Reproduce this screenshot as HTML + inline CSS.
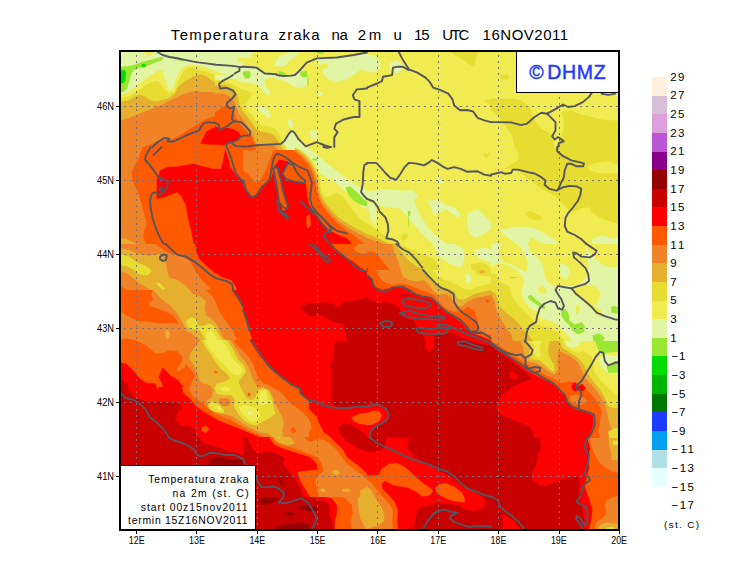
<!DOCTYPE html>
<html><head><meta charset="utf-8"><title>Temperatura zraka na 2m</title>
<style>
html,body{margin:0;padding:0;background:#fff;}
body{width:740px;height:582px;overflow:hidden;position:relative;font-family:"Liberation Sans",sans-serif;}
svg{position:absolute;left:0;top:0;display:block;}
text{font-family:"Liberation Sans",sans-serif;fill:#000;}
.ttl{font-size:15px;}
.ax{font-size:10px;}
.cb{font-size:11.5px;}
.lg{font-size:10.4px;}
.logo{font-size:19.5px;fill:#2038ff;stroke:#2038ff;stroke-width:0.45px;}
</style></head><body>
<svg width="740" height="582" viewBox="0 0 740 582">
<defs>
<clipPath id="plot"><rect x="120" y="51" width="499" height="479"/></clipPath>
<clipPath id="c00"><rect x="119" y="50" width="124.5" height="97.5"/></clipPath>
<clipPath id="c10"><rect x="243" y="50" width="124.5" height="97.5"/></clipPath>
<clipPath id="c20"><rect x="367" y="50" width="124.5" height="97.5"/></clipPath>
<clipPath id="c30"><rect x="491" y="50" width="130.5" height="97.5"/></clipPath>
<clipPath id="c01"><rect x="119" y="147" width="124.5" height="97.5"/></clipPath>
<clipPath id="c11"><rect x="243" y="147" width="124.5" height="97.5"/></clipPath>
<clipPath id="c21"><rect x="367" y="147" width="124.5" height="97.5"/></clipPath>
<clipPath id="c31"><rect x="491" y="147" width="130.5" height="97.5"/></clipPath>
<clipPath id="c02"><rect x="119" y="244" width="124.5" height="97.5"/></clipPath>
<clipPath id="c12"><rect x="243" y="244" width="124.5" height="97.5"/></clipPath>
<clipPath id="c22"><rect x="367" y="244" width="124.5" height="97.5"/></clipPath>
<clipPath id="c32"><rect x="491" y="244" width="130.5" height="97.5"/></clipPath>
<clipPath id="c03"><rect x="119" y="341" width="124.5" height="97.5"/></clipPath>
<clipPath id="c13"><rect x="243" y="341" width="124.5" height="97.5"/></clipPath>
<clipPath id="c23"><rect x="367" y="341" width="124.5" height="97.5"/></clipPath>
<clipPath id="c33"><rect x="491" y="341" width="130.5" height="97.5"/></clipPath>
<clipPath id="c04"><rect x="119" y="438" width="124.5" height="97.5"/></clipPath>
<clipPath id="c14"><rect x="243" y="438" width="124.5" height="97.5"/></clipPath>
<clipPath id="c24"><rect x="367" y="438" width="124.5" height="97.5"/></clipPath>
<clipPath id="c34"><rect x="491" y="438" width="130.5" height="97.5"/></clipPath>
<clipPath id="p0"><rect x="215" y="75" width="80" height="75"/></clipPath>
<clipPath id="p1"><rect x="119" y="290" width="124" height="97"/></clipPath>
<clipPath id="p2"><rect x="367" y="270" width="124" height="97"/></clipPath>
<clipPath id="p3"><rect x="243" y="400" width="124" height="97"/></clipPath>
<clipPath id="p4"><rect x="185" y="340" width="124" height="97"/></clipPath>
</defs>
<rect width="740" height="582" fill="#fff"/>
<g clip-path="url(#plot)">
<rect x="120" y="51" width="499" height="479" fill="#F0EB50"/>
<g clip-path="url(#c00)">
<rect x="119" y="50" width="125" height="98" fill="#E1F5A5"/>
<polygon fill="#9BE632" points="119.0,66.8 129.1,65.9 135.8,64.2 142.5,61.7 152.5,59.2 160.9,57.0 163.9,57.5 161.7,60.4 154.2,63.1 145.8,66.8 139.1,68.1 134.1,70.1 131.1,74.3 129.4,81.0 127.4,87.7 124.0,91.9 119.0,91.9"/>
<polygon fill="#00DC00" points="119.0,70.9 124.9,69.8 126.0,73.5 125.4,80.2 123.2,83.5 119.0,82.7"/>
<polygon fill="#00DC00" points="141.6,64.2 145.8,64.2 145.8,66.8 141.6,66.8"/>
<polygon fill="#F0EB50" points="143.3,51.7 153.4,51.7 150.8,55.9 145.8,55.0"/>
<polygon fill="#9BE632" points="175.1,58.0 183.5,59.7 183.5,61.4 175.1,59.4"/>
<polygon fill="#F0EB50" points="237.1,58.4 243.0,57.5 243.0,62.6 238.8,61.7"/>
<polygon fill="#F0EB50" points="119.0,94.4 127.4,92.7 131.6,89.4 135.8,86.0 144.1,80.2 150.8,75.1 157.5,70.9 162.2,70.1 163.9,76.8 165.9,83.5 168.9,89.9 172.3,89.4 174.8,82.7 177.6,75.1 181.0,68.8 186.0,65.4 192.7,64.4 199.4,65.9 206.1,67.8 212.8,70.1 219.5,72.6 226.2,75.1 232.9,77.6 239.6,78.8 243.0,78.8 243.0,147.0 119.0,147.0"/>
<polygon fill="#E6DC32" points="119.0,98.3 129.1,96.6 135.8,92.2 140.8,88.2 147.5,83.8 154.2,81.2 158.4,81.2 161.7,86.0 165.1,90.6 169.3,93.1 174.3,92.2 176.8,86.0 179.3,78.8 183.5,71.4 187.7,67.8 192.7,67.6 197.8,69.4 202.8,71.1 209.5,73.1 216.2,76.1 222.9,79.3 229.6,81.8 236.3,83.2 243.0,84.4 243.0,147.0 119.0,147.0"/>
<polygon fill="#E6AF2D" points="119.0,102.3 129.1,100.3 135.8,96.2 140.8,94.6 145.8,96.9 150.0,100.3 155.0,101.3 160.9,100.3 167.6,98.6 174.3,94.6 177.6,87.9 182.7,82.8 189.4,78.5 196.1,75.1 201.1,74.5 206.1,76.1 211.2,80.2 216.2,83.5 221.2,87.7 227.9,90.2 234.6,91.9 243.0,93.9 243.0,147.0 119.0,147.0"/>
<polygon fill="#F08228" points="119.0,121.2 129.1,117.9 137.4,114.5 145.8,111.2 154.2,107.8 162.6,104.5 169.3,101.1 176.0,97.8 182.7,94.4 189.4,91.9 196.1,91.1 202.8,91.9 209.5,91.9 216.2,92.7 222.9,93.9 227.9,97.8 234.6,101.1 243.0,105.3 243.0,147.0 119.0,147.0"/>
<polygon fill="#FF5A00" points="144.1,147.0 151.7,143.8 158.0,140.8 169.3,140.2 175.6,137.6 181.8,134.0 189.4,128.9 196.9,124.6 204.5,120.0 212.0,117.0 216.2,116.2 222.9,112.0 227.9,108.3 231.6,107.3 234.6,108.6 235.5,114.5 239.6,120.4 243.0,123.7 243.0,147.0"/>
<polygon fill="#FF0000" points="200.3,143.8 203.6,137.1 206.5,131.4 212.8,127.9 219.5,126.4 226.2,128.8 232.9,127.9 239.6,130.4 242.3,135.5 240.0,140.5 233.8,142.2 226.2,143.8 212.8,144.7"/>
</g>
<g clip-path="url(#c10)">
<rect x="243" y="50" width="125" height="98" fill="#F0EB50"/>
<polygon fill="#E1F5A5" points="243.0,66.8 256.4,68.1 264.8,73.8 276.5,74.8 287.4,76.5 300.0,70.4 307.5,76.8 307.5,86.0 300.0,87.7 291.6,87.7 281.5,83.5 269.8,78.5 263.1,80.2 266.5,88.5 270.6,94.4 266.5,95.2 259.8,88.5 253.1,83.5 243.0,86.0"/>
<polygon fill="#E1F5A5" points="316.7,58.4 336.8,58.0 353.6,55.4 367.0,53.0 367.0,70.9 360.3,70.1 353.6,75.1 346.9,79.3 336.8,81.8 330.1,80.2 325.1,76.8 321.8,70.1 328.5,66.8 326.8,63.4 318.4,65.1"/>
<polygon fill="#E1F5A5" points="273.2,65.9 276.5,60.1 279.0,55.9 289.1,52.5 298.3,52.0 294.9,57.5 289.9,60.1 286.6,65.1 281.5,66.8"/>
<polygon fill="#E1F5A5" points="243.0,52.0 253.1,52.0 251.4,56.7 243.0,58.4"/>
<polygon fill="#E1F5A5" points="316.7,90.2 321.8,91.9 322.6,95.2 317.6,95.6"/>
<polygon fill="#E1F5A5" points="256.4,106.1 264.8,107.0 270.6,112.8 269.8,117.0 263.1,113.7 258.1,110.3"/>
<polygon fill="#E1F5A5" points="287.4,119.0 292.4,120.0 292.9,125.4 288.2,127.9"/>
<polygon fill="#E1F5A5" points="310.0,130.4 316.7,130.1 317.6,140.5 310.9,139.6"/>
<polygon fill="#E1F5A5" points="285.7,147.0 289.1,138.8 291.9,132.9 297.5,139.6 304.2,147.0"/>
<polygon fill="#9BE632" points="243.0,71.4 249.7,70.9 251.0,75.1 249.7,78.5 243.0,78.5"/>
<polygon fill="#9BE632" points="277.4,71.4 283.2,71.8 286.9,75.1 286.2,76.8 280.7,75.1"/>
<polygon fill="#9BE632" points="300.0,71.8 306.7,70.9 307.5,76.8 303.3,77.6 300.3,75.1"/>
<polygon fill="#9BE632" points="307.3,77.6 308.4,77.6 308.4,86.0 307.3,86.0"/>
<polygon fill="#9BE632" points="316.7,52.0 323.8,52.0 323.1,54.0 317.6,53.7"/>
<polygon fill="#E6DC32" points="243.0,90.2 248.0,91.1 252.2,95.2 250.5,100.3 246.4,105.3 243.0,107.0"/>
<polygon fill="#E6DC32" points="243.0,108.6 248.0,113.7 253.1,120.4 259.8,125.4 268.1,126.2 274.8,128.8 279.0,133.8 283.2,138.8 279.9,143.8 273.2,147.0 243.0,147.0"/>
<polygon fill="#E6AF2D" points="243.0,114.5 247.2,118.7 251.4,125.4 256.4,130.4 263.1,132.9 269.8,134.6 275.7,138.0 279.0,142.2 273.2,147.0 243.0,147.0"/>
<polygon fill="#F08228" points="243.0,120.4 246.4,123.7 250.5,130.4 254.7,135.5 259.8,140.5 263.1,147.0 243.0,147.0"/>
<polygon fill="#FF5A00" points="243.0,128.8 248.0,130.4 251.4,137.1 255.6,143.8 257.2,147.0 243.0,147.0"/>
</g>
<g clip-path="url(#c20)">
<rect x="367" y="50" width="125" height="98" fill="#F0EB50"/>
<polygon fill="#E1F5A5" points="367.0,54.2 377.1,56.7 380.7,61.7 379.6,70.1 373.7,72.6 367.0,71.8"/>
<polygon fill="#E1F5A5" points="388.8,64.2 395.5,60.1 403.0,64.2 402.2,70.1 397.2,73.5 392.1,71.8"/>
<polygon fill="#E6DC32" points="450.8,52.0 478.4,52.0 475.9,57.5 474.2,66.8 469.2,64.2 460.8,58.4 454.1,55.0"/>
<polygon fill="#E6DC32" points="483.5,100.3 491.0,99.4 491.0,106.1 487.6,103.6"/>
<polygon fill="#E6DC32" points="435.7,122.9 439.1,122.1 441.6,124.1 438.2,125.7"/>
</g>
<g clip-path="url(#c30)">
<rect x="491" y="50" width="131" height="98" fill="#F0EB50"/>
<polygon fill="#E6DC32" points="500.2,75.1 506.9,74.3 509.8,76.8 506.9,79.8 501.1,78.5"/>
<polygon fill="#E6DC32" points="491.0,98.6 501.1,98.9 512.8,98.6 521.2,100.3 529.5,107.0 532.1,113.7 534.9,120.4 541.3,128.8 548.0,132.1 552.2,135.5 554.7,147.0 514.5,147.0 512.8,137.1 507.8,128.8 501.1,120.4 496.0,113.7 491.0,110.3"/>
<polygon fill="#E6DC32" points="561.4,112.0 571.4,110.3 581.5,114.5 591.5,117.0 601.6,119.5 621.7,121.2 621.7,147.0 558.0,147.0 563.1,130.4 563.9,122.1"/>
</g>
<g clip-path="url(#c01)">
<rect x="119" y="147" width="125" height="98" fill="#FF5A00"/>
<polygon fill="#F08228" points="119.0,147.0 142.5,147.0 139.1,157.1 134.9,165.4 131.6,172.1 132.4,180.5 135.8,187.2 139.1,195.6 141.6,204.0 144.1,214.0 146.6,224.1 144.1,230.8 143.3,237.5 145.8,244.0 119.0,244.0"/>
<polygon fill="#E6AF2D" points="119.0,237.5 125.7,238.8 132.4,241.7 137.4,244.0 119.0,244.0"/>
<polygon fill="#FF0000" points="156.7,198.9 156.7,180.5 160.1,170.5 167.6,167.1 176.0,166.8 186.0,165.1 194.4,163.8 202.8,166.3 212.8,168.8 221.2,168.8 223.7,157.1 225.4,148.7 227.9,157.1 230.4,167.1 236.3,175.5 243.0,180.5 243.0,244.0 193.6,244.0 191.1,230.8 187.7,217.4 186.0,205.6 181.8,197.3 177.6,192.2 170.9,194.8 164.2,197.3"/>
</g>
<g clip-path="url(#c11)">
<rect x="243" y="147" width="125" height="98" fill="#FF0000"/>
<polygon fill="#FF5A00" points="243.0,147.0 283.2,147.0 283.2,157.1 287.4,161.2 279.0,159.6 274.8,165.4 271.5,177.2 266.5,183.0 261.4,187.2 256.4,195.6 251.4,197.3 246.4,190.6 243.0,185.5"/>
<polygon fill="#FF5A00" points="281.5,147.0 293.3,147.0 300.0,153.7 306.7,162.1 311.7,170.5 314.2,180.5 315.9,192.2 320.1,202.3 326.8,211.5 335.2,220.7 345.2,229.1 355.3,235.8 367.0,242.5 367.0,244.0 351.9,244.0 346.9,238.3 338.5,235.0 330.1,230.8 321.8,222.4 315.1,214.0 309.2,204.8 307.0,195.6 306.3,187.2 305.3,182.2 298.3,173.8 291.6,165.4 286.6,160.4 281.5,157.1"/>
<polygon fill="#FF5A00" points="282.4,173.8 288.2,162.1 293.3,165.4 298.3,173.8 305.3,182.2 300.0,183.0 293.3,181.4 285.7,178.8"/>
<polygon fill="#FF5A00" points="273.2,168.8 276.5,166.3 279.0,173.8 280.7,180.5 283.2,190.6 286.6,202.3 287.9,209.0 283.2,210.7 279.0,202.3 277.4,190.6 274.8,178.8"/>
<polygon fill="#FF5A00" points="306.7,215.7 310.0,214.0 310.9,225.8 307.5,229.1 306.3,222.4"/>
<polygon fill="#F08228" points="243.0,148.7 249.7,151.2 256.4,148.7 259.8,147.0 274.0,147.0 271.5,155.4 268.1,163.8 264.8,172.1 261.4,178.8 257.2,183.0 253.1,180.5 248.0,173.8 243.0,170.5"/>
<polygon fill="#E6AF2D" points="258.9,147.0 273.2,147.0 270.6,150.4 263.1,150.7"/>
<polygon fill="#F08228" points="283.2,147.0 293.3,150.4 300.8,156.2 307.5,163.8 312.0,172.1 314.7,182.2 316.4,193.1 320.4,203.1 327.1,212.4 335.5,221.6 345.6,229.9 355.6,236.6 364.5,244.0 367.0,244.0 367.0,147.0"/>
<polygon fill="#E6AF2D" points="286.9,147.0 296.6,150.7 303.3,156.2 309.7,163.8 314.2,172.1 316.7,182.2 318.4,193.1 322.6,203.1 329.3,211.5 337.7,220.4 347.7,227.4 357.8,233.3 367.0,238.0 367.0,147.0"/>
<polygon fill="#E6DC32" points="290.8,147.0 299.1,150.4 305.8,156.2 311.7,163.8 315.9,172.1 318.4,182.2 320.1,193.1 324.8,202.3 331.5,210.3 339.9,218.7 349.9,224.9 360.3,230.8 367.0,234.3 367.0,147.0"/>
<polygon fill="#F0EB50" points="294.1,147.0 301.6,150.4 308.0,156.2 313.7,163.8 317.6,172.1 319.7,180.5 320.9,188.9 323.1,194.8 326.8,197.3 331.8,194.8 336.8,193.1 343.5,197.3 348.6,204.0 353.6,211.5 360.3,219.1 367.0,223.7 367.0,147.0"/>
<polygon fill="#E1F5A5" points="294.9,147.0 306.7,147.0 313.4,152.0 321.8,158.7 330.1,165.4 338.5,172.1 346.9,178.8 356.9,185.5 367.0,190.6 367.0,209.0 360.3,205.6 353.6,198.9 346.9,192.2 340.2,187.2 333.5,180.5 326.8,177.2 320.1,173.8 316.7,167.1 313.4,162.1 308.4,156.2 301.6,150.4"/>
<polygon fill="#9BE632" points="345.2,187.2 350.2,186.4 356.9,192.2 363.6,198.9 367.0,201.5 367.0,206.5 360.3,204.8 353.6,200.6 348.6,194.8"/>
<polygon fill="#9BE632" points="312.5,158.4 317.1,158.4 317.1,160.4 312.5,160.4"/>
</g>
<g clip-path="url(#c21)">
<rect x="367" y="147" width="125" height="98" fill="#F0EB50"/>
<polygon fill="#E1F5A5" points="367.0,191.4 383.8,188.9 400.5,190.6 412.2,190.2 418.1,195.6 413.9,200.6 417.3,209.0 422.3,219.1 429.0,229.1 437.4,237.5 447.4,244.0 434.0,244.0 425.6,237.5 417.3,229.1 410.6,220.7 405.5,214.0 400.5,209.0 392.1,207.3 382.1,206.5 377.1,204.0 373.7,200.6 367.0,198.9"/>
<polygon fill="#E1F5A5" points="367.0,202.3 374.5,204.0 377.1,214.0 375.4,225.8 371.2,220.7 368.7,210.7"/>
<polygon fill="#E1F5A5" points="427.3,200.6 437.4,200.3 447.4,205.6 454.1,207.3 460.0,212.4 459.2,218.2 452.5,214.0 445.8,209.8 439.1,212.4 434.0,215.7 431.5,209.0"/>
<polygon fill="#E1F5A5" points="467.5,214.0 477.6,209.0 484.3,215.7 491.0,222.4 491.0,229.1 484.3,234.1 475.9,237.5 469.2,234.1 467.2,224.1"/>
<polygon fill="#E1F5A5" points="437.4,177.2 444.1,181.4 443.2,184.7 438.2,182.2"/>
<polygon fill="#E6DC32" points="482.6,153.4 490.2,153.4 486.3,159.1"/>
<polygon fill="#9BE632" points="407.7,210.7 410.9,211.5 409.7,216.5 408.1,215.7"/>
<polygon fill="#9BE632" points="408.1,216.5 408.9,216.5 408.9,226.6 408.1,226.6"/>
<polygon fill="#E6DC32" points="400.5,237.5 404.7,232.5 408.9,235.8 403.0,242.5"/>
<polygon fill="#E6DC32" points="367.0,223.7 373.7,227.8 380.4,232.5 387.1,237.2 393.8,240.8 397.2,244.0 367.0,244.0"/>
<polygon fill="#E6AF2D" points="367.0,234.3 373.7,236.3 380.4,239.5 387.1,242.8 389.1,244.0 367.0,244.0"/>
<polygon fill="#F08228" points="367.0,238.0 373.7,240.2 380.4,242.8 383.8,244.0 367.0,244.0"/>
</g>
<g clip-path="url(#c31)">
<rect x="491" y="147" width="131" height="98" fill="#F0EB50"/>
<polygon fill="#E6DC32" points="514.5,147.0 518.6,153.7 517.8,160.4 509.4,165.4 504.4,168.8 514.5,169.6 524.5,175.5 534.6,183.9 544.6,190.6 554.7,195.6 561.4,202.3 568.1,209.0 574.8,211.5 581.5,208.2 589.9,207.3 591.5,212.4 599.9,217.4 608.3,220.7 615.0,223.2 621.7,223.2 621.7,147.0"/>
<polygon fill="#F0EB50" points="587.4,167.1 594.9,162.9 608.3,161.2 615.0,163.8 621.7,163.8 621.7,172.1 608.3,173.8 598.2,173.0 591.5,171.3"/>
<polygon fill="#E6DC32" points="525.4,213.2 530.4,211.0 536.2,214.0 542.1,217.4 540.4,220.7 532.9,219.4 527.9,217.4"/>
<polygon fill="#E1F5A5" points="499.4,230.8 511.1,227.4 524.5,226.6 534.6,228.3 542.9,232.5 551.3,237.5 558.0,242.5 558.0,244.0 544.6,244.0 537.9,240.8 531.2,237.5 527.9,244.0 516.1,244.0 507.8,237.5"/>
<polygon fill="#E1F5A5" points="593.2,238.3 601.6,235.8 615.0,238.3 621.7,238.3 621.7,244.0 591.5,244.0"/>
</g>
<g clip-path="url(#c02)">
<rect x="119" y="244" width="125" height="98" fill="#F08228"/>
<polygon fill="#FF5A00" points="155.0,244.0 162.6,249.0 170.9,254.1 181.0,255.7 189.4,260.8 194.4,269.1 199.4,277.5 206.1,284.2 212.8,290.9 216.2,299.3 222.9,307.7 229.6,314.4 234.6,322.8 236.3,331.1 236.3,341.0 243.0,341.0 243.0,244.0"/>
<polygon fill="#FF0000" points="195.2,244.0 196.1,250.7 199.4,259.1 206.1,265.8 214.5,272.5 222.9,277.5 231.3,280.0 236.3,287.6 239.6,297.6 243.0,306.0 243.0,244.0"/>
<polygon fill="#FF5A00" points="119.0,285.9 124.0,287.9 129.1,292.6 132.4,301.0 137.4,307.3 144.1,308.5 148.3,301.8 152.5,301.0 152.2,306.8 157.5,310.2 165.9,313.5 172.6,317.7 177.6,324.4 180.2,331.1 181.0,341.0 119.0,341.0"/>
<polygon fill="#F08228" points="119.0,311.9 125.7,316.1 134.1,322.8 144.1,324.4 155.9,322.8 167.6,322.8 176.0,326.1 174.3,327.8 165.9,326.1 155.9,326.1 144.1,327.8 134.1,326.9 125.7,322.8 119.0,317.7"/>
<polygon fill="#F08228" points="127.4,341.0 130.7,337.8 137.4,337.0 140.8,341.0"/>
<polygon fill="#F08228" points="165.1,329.5 168.4,328.6 169.3,336.2 165.9,337.8"/>
<polygon fill="#E6AF2D" points="119.0,247.4 129.1,249.9 139.1,254.1 149.2,255.7 159.2,254.1 165.1,259.1 166.8,269.1 169.3,277.5 177.6,280.0 186.0,285.9 192.7,294.3 199.4,295.9 206.1,301.0 207.0,307.7 204.5,314.4 209.5,319.4 216.2,324.4 221.2,331.1 226.2,341.0 181.0,341.0 180.2,331.1 177.6,317.7 172.6,307.7 165.9,299.3 157.5,294.3 149.2,289.2 140.8,284.2 132.4,277.5 125.7,272.5 119.0,271.6"/>
<polygon fill="#E6DC32" points="119.0,254.1 129.1,256.6 137.4,262.4 145.8,265.8 151.7,270.8 147.5,275.8 139.1,274.2 132.4,269.1 125.7,265.8 119.0,265.8"/>
<polygon fill="#E6DC32" points="155.9,283.4 159.2,282.2 165.1,288.4 162.9,290.1"/>
<polygon fill="#E6DC32" points="186.0,322.8 191.1,316.9 196.1,319.4 199.4,326.1 206.1,324.4 214.5,326.1 219.5,332.8 221.2,341.0 186.0,341.0"/>
<polygon fill="#F0EB50" points="187.7,320.2 191.9,317.7 195.2,322.8 194.4,327.8 189.4,326.1"/>
<polygon fill="#F0EB50" points="206.1,331.1 212.8,329.5 217.0,334.5 217.9,341.0 207.8,341.0"/>
</g>
<g clip-path="url(#c12)">
<rect x="243" y="244" width="125" height="98" fill="#FF0000"/>
<polygon fill="#C80000" points="300.8,306.8 306.7,303.5 315.1,303.5 325.1,302.3 333.5,304.3 338.5,307.7 343.5,301.8 351.9,301.0 360.3,299.3 367.0,297.6 367.0,341.0 346.9,341.0 345.2,331.1 343.5,323.6 336.8,322.8 330.1,320.2 323.4,316.1 316.7,314.4 311.7,316.9 306.7,314.4 302.5,310.2"/>
<polygon fill="#FF5A00" points="330.1,244.0 335.2,250.7 343.5,256.6 351.9,260.8 360.3,267.5 367.0,271.6 367.0,244.0"/>
<polygon fill="#F08228" points="354.4,247.4 358.6,244.0 367.0,244.0 367.0,254.1 360.3,253.2 355.3,250.7"/>
<polygon fill="#FF5A00" points="243.0,311.0 246.4,319.4 249.7,331.1 252.2,341.0 243.0,341.0"/>
</g>
<g clip-path="url(#c22)">
<rect x="367" y="244" width="125" height="98" fill="#F0EB50"/>
<polygon fill="#E1F5A5" points="434.0,244.0 454.1,244.0 464.2,249.0 464.2,260.8 460.8,267.5 454.1,265.8 447.4,262.4 440.7,257.4 435.7,250.7"/>
<polygon fill="#E1F5A5" points="474.2,250.7 482.6,247.4 491.0,249.0 491.0,262.4 484.3,260.8 477.6,257.4"/>
<polygon fill="#E1F5A5" points="465.0,274.2 469.2,273.3 470.9,280.9 467.5,284.2 465.0,280.0"/>
<polygon fill="#E6DC32" points="470.9,264.1 480.9,262.4 489.3,265.8 491.0,274.2 484.3,279.2 475.9,277.5 471.7,270.8"/>
<polygon fill="#E6AF2D" points="479.3,270.0 483.5,270.0 483.5,273.3 479.3,273.3"/>
<polygon fill="#E6DC32" points="399.7,244.0 410.6,249.0 422.3,254.1 434.0,259.1 439.1,265.8 442.4,272.5 447.4,277.5 452.5,282.5 459.2,286.7 467.5,289.2 474.2,287.6 482.6,284.2 491.0,283.4 491.0,341.0 367.0,341.0 367.0,244.0"/>
<polygon fill="#E6AF2D" points="394.6,244.0 400.5,250.7 407.2,259.1 415.6,265.8 424.0,269.1 430.7,275.8 435.7,284.2 440.7,292.6 447.4,294.3 454.1,292.6 460.8,294.3 470.9,295.9 480.9,292.6 491.0,290.1 491.0,341.0 367.0,341.0 367.0,244.0"/>
<polygon fill="#F08228" points="392.1,244.0 394.1,252.4 398.0,260.8 400.5,269.1 403.0,275.8 408.9,270.8 417.3,269.1 424.0,274.2 430.7,282.5 435.7,292.6 440.7,301.0 447.4,306.0 454.1,299.3 460.8,295.9 470.9,299.3 480.9,295.9 491.0,294.3 491.0,341.0 367.0,341.0 367.0,244.0"/>
<polygon fill="#FF5A00" points="367.0,251.5 374.5,252.0 377.4,254.4 383.8,262.4 390.5,270.8 397.2,279.2 405.5,285.9 415.6,290.9 425.6,294.3 434.0,299.3 440.7,307.7 449.1,314.4 457.5,316.1 464.2,307.7 469.2,306.0 474.2,314.4 475.9,322.8 480.9,327.8 487.6,331.1 491.0,332.8 491.0,341.0 367.0,341.0"/>
<polygon fill="#FF0000" points="367.0,267.5 372.0,275.8 375.4,285.9 382.1,291.8 390.5,289.2 400.5,288.4 410.6,292.6 420.6,296.8 430.7,299.3 439.1,307.7 447.4,315.2 457.5,321.1 465.9,327.8 474.2,332.8 484.3,337.8 491.0,341.0 367.0,341.0"/>
<polygon fill="#C80000" points="367.0,294.3 377.1,299.3 387.1,302.6 398.8,306.0 400.5,314.4 397.2,321.1 403.9,327.8 415.6,331.1 417.3,341.0 367.0,341.0"/>
<polygon fill="#C80000" points="399.7,294.3 410.6,293.9 411.4,296.3 400.5,296.8"/>
</g>
<g clip-path="url(#c32)">
<rect x="491" y="244" width="131" height="98" fill="#E1F5A5"/>
<polygon fill="#F0EB50" points="501.1,244.0 517.8,244.0 524.5,254.1 527.9,264.1 526.2,272.5 519.5,269.1 511.1,264.1 502.7,262.4 497.7,254.1"/>
<polygon fill="#F0EB50" points="527.9,244.0 584.8,244.0 586.5,254.1 589.0,267.5 586.5,277.5 579.8,284.2 569.8,285.9 561.4,285.1 554.7,285.9 548.0,282.5 544.6,275.8 542.9,265.8 537.9,257.4 531.2,252.4"/>
<polygon fill="#E1F5A5" points="558.0,265.8 563.1,263.3 568.9,267.5 569.8,274.2 565.6,280.0 560.5,275.8"/>
<polygon fill="#F0EB50" points="584.8,244.0 621.7,244.0 621.7,265.8 608.3,267.5 601.6,264.1 594.9,257.4 589.9,254.1"/>
<polygon fill="#F0EB50" points="571.4,288.4 584.8,284.2 594.9,285.9 600.8,292.6 598.2,301.0 594.9,306.0 601.6,311.0 599.9,317.7 593.2,311.0 586.5,304.3 579.8,297.6 573.1,292.6"/>
<polygon fill="#F0EB50" points="537.1,288.4 542.9,285.9 547.1,290.9 543.8,294.3 538.8,291.8"/>
<polygon fill="#F0EB50" points="575.6,306.0 579.0,304.3 579.8,311.0 576.5,314.4"/>
<polygon fill="#F0EB50" points="491.0,267.5 497.7,262.4 504.4,264.1 512.8,267.5 519.5,272.5 524.5,280.9 521.2,292.6 524.5,301.0 529.5,307.7 536.2,311.0 539.6,317.7 546.3,319.4 554.7,322.8 561.4,329.5 568.1,336.2 571.4,341.0 491.0,341.0"/>
<polygon fill="#E6DC32" points="491.0,273.3 496.0,274.2 501.1,282.5 509.4,285.9 511.1,294.3 516.1,302.6 522.8,309.4 529.5,316.1 535.4,322.8 541.3,326.1 549.6,327.8 558.0,332.8 564.7,341.0 491.0,341.0"/>
<polygon fill="#E6AF2D" points="491.0,290.9 496.0,294.3 499.4,306.0 506.1,312.7 512.8,317.7 519.5,324.4 524.5,331.1 529.5,336.2 532.9,341.0 491.0,341.0"/>
<polygon fill="#F08228" points="491.0,294.3 494.4,301.0 496.9,311.0 501.1,319.4 506.1,327.8 511.1,334.5 512.8,341.0 491.0,341.0"/>
<polygon fill="#9BE632" points="527.9,295.9 531.2,295.1 536.2,300.1 541.3,303.5 545.5,306.8 544.6,309.4 539.6,306.8 533.7,302.6 528.7,299.3"/>
<polygon fill="#9BE632" points="561.4,311.0 565.6,308.5 568.9,314.4 569.8,321.1 574.8,324.4 581.5,321.9 584.8,326.1 584.0,332.0 578.1,334.5 573.1,331.1 569.8,326.1 564.7,321.1 561.4,316.1"/>
<polygon fill="#9BE632" points="610.8,306.8 615.0,306.0 618.4,307.7 618.4,313.5 611.6,312.7"/>
<polygon fill="#9BE632" points="592.4,335.3 599.9,333.6 604.9,337.8 603.3,341.0 593.2,341.0"/>
<polygon fill="#9BE632" points="510.3,277.0 516.1,277.0 516.1,278.0 510.3,278.0"/>
</g>
<g clip-path="url(#c03)">
<rect x="119" y="341" width="125" height="98" fill="#FF5A00"/>
<polygon fill="#F08228" points="140.8,341.0 149.2,344.4 155.9,349.4 162.6,354.4 169.3,351.9 176.0,351.1 181.0,354.4 181.8,362.8 177.6,367.8 176.0,372.0 186.0,365.3 192.7,371.2 191.1,379.5 188.5,389.6 191.1,398.0 196.1,404.7 202.8,411.4 209.5,416.4 216.2,420.6 226.2,423.1 236.3,424.8 243.0,426.5 243.0,341.0"/>
<polygon fill="#FF5A00" points="234.6,341.0 243.0,341.0 243.0,361.1 239.6,351.1"/>
<polygon fill="#E6AF2D" points="201.1,341.0 197.8,347.7 191.1,354.4 189.4,361.1 194.4,367.8 199.4,376.2 209.5,380.4 214.5,384.6 212.8,391.3 207.8,398.0 206.1,402.2 209.5,408.0 217.9,416.4 227.9,419.8 236.3,421.4 243.0,423.1 243.0,362.8 239.6,354.4 234.6,346.0 231.3,341.0"/>
<polygon fill="#E6DC32" points="204.5,341.0 207.8,347.7 212.8,354.4 217.9,362.8 224.6,369.5 229.6,374.5 226.2,379.5 217.9,382.9 213.7,387.1 219.5,391.3 226.2,392.9 232.9,394.6 236.3,399.6 232.9,406.4 226.2,408.0 219.5,404.7 212.8,401.3 207.8,402.2 212.8,408.0 221.2,414.7 229.6,416.4 239.6,418.1 243.0,418.9 243.0,366.1 239.6,357.8 234.6,347.7 229.6,341.0"/>
<polygon fill="#E6AF2D" points="219.5,399.6 226.2,398.0 231.3,401.3 229.6,407.2 222.9,406.4"/>
<polygon fill="#F0EB50" points="207.8,341.0 212.8,349.4 219.5,359.4 227.9,367.8 236.3,372.8 241.3,369.5 236.3,361.1 231.3,351.1 226.2,341.0"/>
<polygon fill="#F0EB50" points="219.5,387.1 227.9,386.2 231.3,389.6 226.2,391.3 221.2,390.4"/>
<polygon fill="#F0EB50" points="207.8,403.0 214.5,402.2 221.2,408.0 226.2,413.1 219.5,413.1 212.8,408.0"/>
<polygon fill="#F0EB50" points="239.6,398.0 243.0,396.3 243.0,414.7 238.8,408.0"/>
<polygon fill="#FF0000" points="119.0,362.8 125.7,364.5 134.1,372.8 142.5,382.9 152.5,382.9 158.4,389.6 159.2,374.5 162.6,367.0 169.3,372.8 176.0,379.5 181.0,384.6 183.5,392.9 189.4,399.6 194.4,406.4 201.1,409.7 206.1,414.7 212.8,419.8 222.9,423.1 232.9,426.5 243.0,428.1 243.0,438.0 119.0,438.0"/>
<polygon fill="#C80000" points="119.0,381.2 125.7,384.6 129.1,391.3 135.8,398.0 145.8,401.3 155.9,401.7 169.3,402.2 179.3,402.2 182.7,408.0 177.6,413.1 176.0,419.8 179.3,424.8 186.0,426.5 192.7,429.8 199.4,438.0 119.0,438.0"/>
<polygon fill="#FF5A00" points="185.2,417.2 188.0,417.2 189.0,419.8 185.2,419.8"/>
<polygon fill="#FF5A00" points="201.1,428.1 206.1,425.6 209.5,429.8 206.1,433.2 201.9,431.5"/>
</g>
<g clip-path="url(#c13)">
<rect x="243" y="341" width="125" height="98" fill="#FF0000"/>
<polygon fill="#C80000" points="334.3,341.0 367.0,341.0 367.0,407.2 350.2,408.0 341.9,408.9 334.3,405.5 331.8,396.3 331.0,386.2 331.8,374.5 330.1,366.1 333.5,357.8 334.3,347.7"/>
<polygon fill="#C80000" points="338.5,426.5 343.5,423.1 353.6,424.8 363.6,426.5 367.0,428.1 367.0,438.0 343.5,438.0 339.4,433.2"/>
<polygon fill="#FF5A00" points="351.1,418.9 356.9,414.7 367.0,413.9 367.0,421.4 360.3,423.1 354.4,422.3"/>
<polygon fill="#FF5A00" points="251.4,341.0 254.7,349.4 261.4,357.8 268.1,365.3 276.5,373.7 284.9,381.2 293.3,387.9 298.3,392.9 303.3,399.6 310.0,408.0 315.1,416.4 318.4,424.8 321.8,431.5 326.8,438.0 243.0,438.0 243.0,341.0"/>
<polygon fill="#F08228" points="243.0,356.1 249.7,359.4 256.4,364.5 263.1,372.8 271.5,381.2 276.5,389.6 283.2,398.0 291.6,406.4 300.0,414.7 306.7,421.4 310.0,429.8 306.7,438.0 243.0,438.0"/>
<polygon fill="#FF5A00" points="289.1,429.0 293.3,426.5 296.6,430.6 293.3,434.0"/>
<polygon fill="#E6AF2D" points="243.0,361.1 248.0,364.5 252.2,371.2 254.7,379.5 261.4,382.9 268.1,384.6 273.2,389.6 276.5,396.3 281.5,404.7 283.2,414.7 281.5,424.8 283.2,438.0 243.0,438.0"/>
<polygon fill="#E6DC32" points="243.0,366.1 247.2,369.5 249.7,377.9 251.4,384.6 258.1,386.2 264.8,387.1 269.8,391.3 271.5,399.6 274.8,408.0 276.5,414.7 269.8,421.4 263.1,424.8 259.8,429.8 253.1,428.1 248.0,423.1 243.0,419.8"/>
<polygon fill="#F0EB50" points="243.0,367.8 245.5,372.8 245.5,379.5 243.0,381.2"/>
<polygon fill="#F0EB50" points="257.2,391.3 263.1,388.8 267.3,392.9 266.5,399.6 261.4,403.0 257.2,398.0"/>
<polygon fill="#F0EB50" points="243.0,407.2 249.7,405.5 256.4,408.0 258.1,414.7 254.7,420.6 249.7,422.3 244.7,418.1 243.0,414.7"/>
<polygon fill="#E1F5A5" points="248.0,412.2 252.2,412.2 252.2,414.7 248.0,414.7"/>
</g>
<g clip-path="url(#c23)">
<rect x="367" y="341" width="125" height="98" fill="#C80000"/>
<polygon fill="#FF0000" points="425.6,341.0 434.0,341.0 433.2,347.7 429.0,351.1 424.8,347.7"/>
<polygon fill="#FF0000" points="423.1,341.0 424.0,341.0 424.0,354.4 423.1,354.4"/>
<polygon fill="#FF0000" points="485.1,359.4 488.5,358.6 491.0,362.8 491.0,367.8 487.6,366.1"/>
<polygon fill="#FF0000" points="475.9,353.6 478.9,353.6 478.9,355.2 475.9,355.2"/>
<polygon fill="#FF0000" points="465.9,341.0 491.0,341.0 491.0,344.4 480.9,343.5 470.9,342.7"/>
<polygon fill="#FF0000" points="367.0,403.8 377.1,403.0 383.8,405.5 388.8,411.4 387.9,418.1 382.1,423.1 375.4,426.5 370.4,431.5 369.5,438.0 367.0,438.0"/>
<polygon fill="#FF5A00" points="367.0,413.1 373.7,410.5 379.6,411.4 382.1,415.6 378.7,421.4 372.0,424.8 367.0,425.6"/>
<polygon fill="#FF0000" points="387.1,437.4 408.9,437.4 408.9,438.0 387.1,438.0"/>
</g>
<g clip-path="url(#c33)">
<rect x="491" y="341" width="131" height="98" fill="#F08228"/>
<polygon fill="#E6AF2D" points="520.3,341.0 522.8,347.7 524.5,354.4 527.0,361.1 534.6,362.8 541.3,366.1 548.0,371.2 554.7,374.5 558.0,369.5 557.2,361.1 558.0,351.1 563.1,352.7 571.4,356.9 578.1,362.8 582.3,371.2 584.8,377.9 591.5,384.6 598.2,392.9 603.3,401.3 606.6,409.7 608.3,419.8 611.6,429.8 615.0,432.3 621.7,432.3 621.7,341.0"/>
<polygon fill="#E6DC32" points="527.0,341.0 530.4,347.7 528.7,356.1 532.9,359.4 539.6,360.3 544.6,364.5 549.6,369.5 554.7,372.0 553.8,364.5 549.6,357.8 548.0,349.4 549.6,341.0"/>
<polygon fill="#F0EB50" points="532.1,341.0 541.3,341.0 539.6,347.7 541.3,354.4 537.9,357.8 533.7,353.6 534.6,347.7"/>
<polygon fill="#E6DC32" points="559.7,341.0 562.2,347.7 569.8,352.7 578.1,357.8 584.8,366.1 588.2,374.5 593.2,381.2 599.9,389.6 604.9,398.0 608.3,406.4 615.0,408.0 621.7,408.0 621.7,341.0"/>
<polygon fill="#E6AF2D" points="581.5,346.0 584.8,344.4 588.2,348.5 584.8,351.9"/>
<polygon fill="#F0EB50" points="563.1,341.0 565.6,346.0 571.4,350.2 578.1,352.7 583.2,351.1 591.5,356.1 593.2,364.5 594.9,372.8 599.9,379.5 606.6,386.2 611.6,391.3 615.0,394.6 621.7,394.6 621.7,341.0"/>
<polygon fill="#E1F5A5" points="564.7,341.0 581.5,341.0 578.1,346.0 571.4,347.7 566.4,345.2"/>
<polygon fill="#E1F5A5" points="598.2,357.8 606.6,354.4 615.0,356.1 621.7,356.1 621.7,374.5 608.3,372.8 601.6,367.8"/>
<polygon fill="#9BE632" points="594.9,341.0 621.7,341.0 621.7,351.1 608.3,352.7 601.6,354.4 598.2,349.4"/>
<polygon fill="#9BE632" points="606.6,366.1 615.0,361.1 621.7,361.1 621.7,372.8 608.3,372.8"/>
<polygon fill="#E6DC32" points="608.3,431.5 615.0,428.1 621.7,428.1 621.7,438.0 609.1,438.0"/>
<polygon fill="#FF5A00" points="491.0,341.0 497.7,344.4 507.8,351.1 516.1,356.9 524.5,362.8 532.9,367.8 539.6,372.0 546.3,375.4 554.7,379.5 561.4,382.9 569.8,381.2 578.1,382.9 584.8,387.9 591.5,394.6 598.2,403.0 601.6,411.4 599.9,421.4 598.2,431.5 599.9,438.0 587.4,438.0 590.7,433.2 593.6,424.8 593.2,415.6 588.2,413.1 579.8,410.5 573.1,408.0 568.1,403.8 564.7,395.5 558.0,388.8 553.0,383.7 546.3,380.4 537.9,376.2 529.5,372.0 521.2,366.1 511.1,358.6 501.1,351.9 491.0,344.4"/>
<polygon fill="#FF0000" points="572.3,383.7 574.8,382.1 578.1,386.2 582.3,383.7 585.7,387.9 583.2,391.3 578.1,390.4 573.9,391.3 571.4,387.9"/>
<polygon fill="#F08228" points="569.8,396.3 576.5,394.6 584.8,398.0 587.4,401.3 581.5,404.7 574.8,403.8 570.6,401.3"/>
<polygon fill="#FF0000" points="491.0,344.4 501.1,351.9 511.1,358.6 521.2,366.1 529.5,372.0 537.9,376.2 546.3,380.4 553.0,383.7 558.0,388.8 564.7,395.5 568.1,403.8 573.1,408.0 579.8,410.5 588.2,413.1 593.2,415.6 593.6,424.8 590.7,433.2 587.4,438.0 491.0,438.0"/>
<polygon fill="#C80000" points="491.0,346.0 499.4,352.7 509.4,359.4 519.5,367.8 527.9,374.5 531.2,378.7 521.2,382.9 511.1,387.9 502.7,394.6 497.7,401.3 496.0,408.0 501.1,414.7 511.1,418.9 521.2,423.1 529.5,426.5 532.9,431.5 533.7,438.0 491.0,438.0"/>
<polygon fill="#FF0000" points="509.4,372.8 513.6,371.2 517.8,376.2 514.5,380.4 510.3,377.0"/>
</g>
<g clip-path="url(#c04)">
<rect x="119" y="438" width="125" height="98" fill="#C80000"/>
<polygon fill="#FF0000" points="199.4,438.0 201.1,441.4 206.1,443.9 212.8,445.5 219.5,448.1 227.9,450.6 236.3,453.1 243.0,455.6 243.0,438.0"/>
<polygon fill="#960000" points="209.5,459.8 214.5,457.8 222.9,458.1 232.9,459.8 243.0,460.6 243.0,464.8 209.5,464.8"/>
</g>
<g clip-path="url(#c14)">
<rect x="243" y="438" width="125" height="98" fill="#C80000"/>
<polygon fill="#FF0000" points="243.0,438.0 243.0,446.4 249.7,448.1 254.7,459.8 258.1,456.4 264.8,454.8 269.8,451.4 274.8,453.1 280.7,454.8 286.6,460.6 293.3,466.5 296.6,476.5 300.8,486.6 308.4,495.0 316.7,499.2 326.8,501.7 330.1,506.7 329.3,515.1 332.6,521.8 333.5,529.3 367.0,529.3 367.0,438.0"/>
<polygon fill="#FF5A00" points="268.1,438.0 271.5,444.7 278.2,450.6 286.6,453.9 294.9,455.6 301.6,458.9 311.7,463.1 316.7,468.2 315.1,473.2 306.7,472.4 298.3,469.8 300.8,478.2 305.8,486.6 312.5,493.3 321.8,496.6 331.8,498.3 336.8,505.0 336.8,513.4 334.8,521.8 334.8,529.3 367.0,529.3 367.0,481.6 360.3,474.9 353.6,468.2 346.9,461.5 340.2,454.8 333.5,448.1 328.5,441.4 326.8,438.0"/>
<polygon fill="#F08228" points="271.5,438.0 276.5,444.7 284.9,449.7 293.3,450.6 301.6,448.1 310.0,449.7 318.4,456.4 323.4,464.8 322.6,473.2 318.4,478.2 313.4,483.2 312.5,488.3 318.4,491.6 326.8,493.3 336.8,495.8 345.2,498.3 351.9,505.0 352.8,513.4 350.2,521.8 351.9,529.3 367.0,529.3 367.0,484.9 360.3,483.2 353.6,479.9 346.9,473.2 343.5,464.8 336.8,456.4 330.1,449.7 323.4,443.0 321.8,438.0"/>
<polygon fill="#E6AF2D" points="276.5,438.0 293.3,438.0 291.6,442.2 284.9,444.7 279.0,442.2"/>
<polygon fill="#E6AF2D" points="331.8,471.5 336.0,469.0 340.2,472.4 336.0,474.9"/>
<polygon fill="#E6AF2D" points="320.9,489.1 323.4,487.4 326.8,490.8 322.6,491.6"/>
<polygon fill="#E6AF2D" points="341.9,489.1 348.6,488.3 350.2,491.6 343.5,491.6"/>
<polygon fill="#E6AF2D" points="358.6,493.3 363.6,491.6 367.0,492.5 367.0,529.3 363.6,525.1 360.3,518.4 358.6,508.4 357.8,500.0"/>
<polygon fill="#C80000" points="343.5,438.0 367.0,438.0 367.0,452.2 360.3,449.7 353.6,446.4 346.9,441.4"/>
<polygon fill="#960000" points="258.1,500.0 264.8,495.0 274.8,492.5 279.0,495.0 276.5,500.8 268.1,504.2 261.4,505.0"/>
<polygon fill="#960000" points="277.4,477.4 281.5,478.2 284.1,484.1 280.7,484.9"/>
<polygon fill="#960000" points="298.3,505.9 306.7,505.0 316.7,506.7 317.6,511.7 310.0,511.7 301.6,509.2"/>
<polygon fill="#960000" points="284.9,512.6 293.3,511.7 294.9,514.2 288.2,515.9"/>
<polygon fill="#960000" points="276.5,526.8 286.6,524.3 300.0,522.6 310.0,525.1 311.7,529.3 276.5,529.3"/>
</g>
<g clip-path="url(#c24)">
<rect x="367" y="438" width="125" height="98" fill="#C80000"/>
<polygon fill="#FF0000" points="367.0,452.2 377.1,451.4 383.8,448.1 385.4,441.4 387.1,438.0 408.9,438.0 407.2,448.1 413.9,456.4 424.0,463.1 437.4,469.8 450.8,476.5 460.8,484.9 470.9,489.9 482.6,496.6 486.0,501.7 482.6,508.4 474.2,510.9 465.9,509.2 457.5,505.0 447.4,503.4 437.4,502.5 427.3,505.9 417.3,508.4 415.6,518.4 413.1,529.3 367.0,529.3"/>
<polygon fill="#FF5A00" points="377.9,474.9 382.1,468.2 388.8,464.0 397.2,463.1 405.5,467.3 413.9,474.9 422.3,482.4 430.7,488.3 433.2,491.6 429.0,495.8 422.3,496.6 415.6,491.6 407.2,487.4 398.8,486.6 392.1,484.9 385.4,480.7 382.1,483.2 382.1,488.3 388.8,495.0 394.6,501.7 398.0,510.1 397.2,521.8 398.0,529.3 367.0,529.3 367.0,475.7"/>
<polygon fill="#FF5A00" points="434.9,488.3 439.1,484.1 445.8,482.9 454.1,486.6 460.8,491.6 464.2,496.6 465.0,502.5 457.5,501.7 449.1,500.0 440.7,495.8 436.5,492.5"/>
<polygon fill="#F08228" points="367.0,479.9 372.0,483.2 377.1,489.9 382.1,496.6 388.8,503.4 393.0,510.1 392.1,521.8 393.0,529.3 367.0,529.3"/>
<polygon fill="#E6AF2D" points="367.0,486.6 372.0,491.6 377.1,500.0 382.1,508.4 384.6,515.1 383.8,521.8 378.7,525.1 373.7,526.8 367.0,529.3"/>
</g>
<g clip-path="url(#c34)">
<rect x="491" y="438" width="131" height="98" fill="#C80000"/>
<polygon fill="#FF0000" points="539.6,438.0 541.3,446.4 537.9,454.8 536.2,464.8 531.2,473.2 532.1,479.9 539.6,484.9 548.0,484.9 558.0,480.7 568.1,478.2 579.0,476.5 579.8,488.3 579.0,498.3 582.3,508.4 584.0,518.4 583.2,529.3 589.0,529.3 591.5,518.4 592.4,508.4 588.2,496.6 584.8,486.6 587.4,478.2 588.2,468.2 587.4,458.1 588.2,448.1 587.4,438.0"/>
<polygon fill="#FF0000" points="502.7,514.2 507.8,516.8 514.5,521.8 520.3,529.3 502.7,529.3"/>
<polygon fill="#FF5A00" points="587.4,438.0 589.9,448.1 588.2,458.1 589.0,468.2 586.5,478.2 584.8,486.6 588.2,496.6 592.4,508.4 591.5,518.4 589.0,529.3 615.0,529.3 621.7,529.3 621.7,438.0"/>
<polygon fill="#F08228" points="589.9,438.0 591.5,446.4 594.9,454.8 599.9,463.1 606.6,468.2 611.6,471.5 621.7,473.2 621.7,438.0"/>
<polygon fill="#F08228" points="606.6,500.0 615.0,496.6 621.7,496.6 621.7,529.3 594.9,529.3 596.6,521.8 601.6,518.4 606.6,513.4 604.9,505.0"/>
<polygon fill="#E6AF2D" points="608.3,438.0 621.7,438.0 621.7,461.5 611.6,459.8 610.8,451.4 609.1,444.7"/>
<polygon fill="#E6AF2D" points="599.9,525.1 606.6,522.6 615.0,523.5 621.7,523.5 621.7,529.3 598.2,529.3"/>
<polygon fill="#E6DC32" points="612.5,440.5 621.7,440.5 621.7,445.5 613.3,444.7"/>
<polygon fill="#E6DC32" points="606.6,527.6 613.3,526.8 615.0,529.3 606.6,529.3"/>
</g>
<g clip-path="url(#p0)">
<rect x="215" y="75" width="80" height="75" fill="#F0EB50"/>
<polygon fill="#E1F5A5" points="215.0,75.0 295.0,75.0 295.0,87.2 289.7,84.0 282.0,80.2 275.6,78.2 269.1,77.8 264.6,80.2 265.9,86.6 270.4,93.0 268.5,95.6 264.0,92.4 260.1,87.2 254.9,84.3 248.5,83.0 240.8,81.4 234.3,78.9 227.9,78.2 221.4,80.2 215.0,78.9"/>
<polygon fill="#E1F5A5" points="257.5,107.2 262.7,106.6 269.1,111.1 271.1,116.2 267.8,118.2 264.0,113.7 258.8,111.1"/>
<polygon fill="#E1F5A5" points="287.2,120.1 291.0,118.8 293.0,122.7 292.3,129.1 288.5,126.5"/>
<polygon fill="#E1F5A5" points="284.6,140.7 289.1,133.0 292.3,130.4 295.0,133.0 295.0,150.0 287.2,150.0 283.3,144.6"/>
<polygon fill="#9BE632" points="243.4,75.0 250.4,75.0 249.8,78.2 245.3,78.6"/>
<polygon fill="#E6DC32" points="215.0,80.2 221.4,81.4 227.9,82.7 234.3,85.3 240.8,89.2 247.2,90.5 252.4,94.3 248.5,99.5 245.9,104.6 247.2,109.8 252.4,114.9 256.2,121.4 261.4,125.3 269.1,126.5 275.6,129.1 279.4,134.3 282.0,140.7 284.6,145.2 287.2,150.0 215.0,150.0"/>
<polygon fill="#E6AF2D" points="215.0,86.0 220.2,85.3 225.3,84.7 230.5,87.9 235.6,91.8 238.2,96.9 239.5,104.6 242.7,111.1 247.2,116.2 251.7,122.7 256.2,129.1 261.4,131.7 269.1,133.0 274.3,135.6 278.1,140.7 280.7,145.9 283.3,150.0 215.0,150.0"/>
<polygon fill="#F08228" points="215.0,94.3 220.2,93.0 225.3,94.3 230.5,96.9 234.3,102.1 236.3,107.2 238.8,113.7 242.7,118.8 247.2,125.3 251.1,131.7 253.7,138.1 256.2,143.3 258.8,145.9 266.5,145.2 271.7,144.6 275.6,147.2 278.1,150.0 215.0,150.0"/>
<polygon fill="#FF5A00" points="215.0,112.4 221.4,107.9 226.6,104.6 228.5,107.9 232.4,107.2 233.7,112.4 235.6,117.5 239.5,122.7 243.4,127.8 248.5,133.0 252.4,138.1 254.9,144.6 256.2,150.0 215.0,150.0"/>
<polygon fill="#FF0000" points="215.0,125.9 220.2,128.5 226.6,127.8 233.0,129.1 238.2,131.7 240.8,135.6 237.6,139.4 233.0,142.0 227.9,143.3 222.7,145.2 215.0,144.6"/>
</g>
<g clip-path="url(#p1)">
<rect x="119" y="290" width="124" height="97" fill="#F08228"/>
<polygon fill="#FF5A00" points="119.0,290.0 152.5,290.0 150.8,295.0 153.3,300.1 149.2,301.7 150.0,305.9 157.5,308.4 165.9,311.8 172.6,315.1 176.8,320.2 178.5,324.3 172.6,322.7 165.9,323.5 155.9,322.7 147.5,321.8 139.1,321.0 132.4,318.5 125.7,315.1 119.0,310.1"/>
<polygon fill="#FF5A00" points="119.0,340.3 125.7,338.6 135.8,340.3 145.8,345.3 155.9,353.7 162.6,352.8 169.3,350.3 177.6,351.2 182.7,357.0 181.0,363.7 176.8,368.8 177.6,372.1 186.0,366.2 191.1,368.8 194.4,375.5 196.1,387.0 119.0,387.0"/>
<polygon fill="#FF5A00" points="206.1,290.0 212.8,296.7 216.2,303.4 219.5,311.8 226.2,321.8 232.9,330.2 236.3,338.6 239.6,347.0 243.0,353.7 243.0,290.0"/>
<polygon fill="#FF0000" points="231.3,290.0 236.3,296.7 243.0,306.8 243.0,290.0"/>
<polygon fill="#E6AF2D" points="153.3,290.0 160.9,298.4 169.3,305.1 176.0,311.8 180.2,318.5 183.5,324.3 186.0,330.2 192.7,334.4 199.4,339.4 200.8,345.3 196.9,351.2 190.2,354.5 188.5,360.4 191.9,367.9 196.9,375.5 200.3,387.0 243.0,387.0 243.0,365.4 238.8,360.4 236.3,353.7 234.6,347.0 227.9,341.9 222.9,336.9 219.5,330.2 216.2,323.5 212.8,320.2 206.1,315.1 204.5,308.4 206.1,301.7 201.1,296.7 192.7,293.4 189.4,290.0"/>
<polygon fill="#E6AF2D" points="165.1,331.1 168.4,329.4 170.1,334.4 167.6,339.4 165.1,336.1"/>
<polygon fill="#E6DC32" points="186.0,321.0 191.1,316.8 196.1,319.3 197.8,325.2 202.8,326.0 209.5,323.5 214.5,326.0 217.9,333.6 222.9,340.3 229.6,345.3 234.6,352.0 238.0,358.7 243.0,362.1 243.0,377.1 236.3,375.5 229.6,370.4 222.9,363.7 217.9,358.7 212.8,352.0 207.8,345.3 203.6,336.9 201.1,331.9 197.8,329.4 192.7,329.4 187.7,326.9"/>
<polygon fill="#F0EB50" points="207.0,331.9 211.2,330.2 215.3,335.2 217.9,341.9 222.9,347.0 227.9,353.7 234.6,360.4 239.6,365.4 243.0,368.8 243.0,373.8 236.3,372.1 229.6,367.1 222.9,360.4 217.9,355.3 212.8,348.6 208.6,341.9 206.1,336.9"/>
<polygon fill="#FF0000" points="119.0,362.1 126.5,363.9 131.6,368.9 136.6,375.1 141.6,380.1 147.8,383.3 155.4,383.3 156.7,387.0 119.0,387.0"/>
<polygon fill="#FF0000" points="162.4,367.6 158.5,377.6 161.7,382.7 162.9,387.0 183.5,387.0 181.8,385.2 178.0,380.1 171.8,376.5 166.8,371.4"/>
<polygon fill="#C80000" points="119.0,379.6 121.5,380.1 127.7,383.3 128.4,387.0 119.0,387.0"/>
</g>
<g clip-path="url(#p2)">
<rect x="367" y="270" width="124" height="97" fill="#F0EB50"/>
<polygon fill="#E1F5A5" points="465.0,274.2 468.4,272.5 471.2,278.4 469.5,284.2 465.9,281.7"/>
<polygon fill="#E6DC32" points="432.3,270.0 437.4,275.0 444.1,280.1 450.8,281.7 457.5,285.1 464.2,288.4 470.9,290.1 477.6,286.8 484.3,285.1 491.0,283.4 491.0,367.0 367.0,367.0 367.0,270.0"/>
<polygon fill="#E6DC32" points="474.2,270.0 491.0,270.0 491.0,276.7 482.6,275.9 475.9,274.2"/>
<polygon fill="#E6AF2D" points="479.3,270.0 484.3,270.0 484.3,273.0 480.1,273.0"/>
<polygon fill="#E6AF2D" points="423.1,270.0 427.3,276.7 434.0,283.4 440.7,286.8 447.4,288.4 454.1,291.8 457.5,298.5 462.5,300.2 469.2,296.8 475.9,293.5 484.3,291.8 491.0,290.1 491.0,367.0 367.0,367.0 367.0,270.0"/>
<polygon fill="#F08228" points="400.5,270.0 403.0,276.7 408.9,280.1 417.3,281.7 424.0,280.1 429.0,285.1 434.0,291.8 439.1,295.1 445.8,293.5 450.8,296.8 454.1,303.5 460.8,306.9 467.5,301.8 474.2,298.5 482.6,296.8 491.0,295.1 491.0,367.0 367.0,367.0 367.0,270.0"/>
<polygon fill="#FF5A00" points="375.4,270.0 378.7,276.7 383.8,281.7 392.1,285.1 400.5,283.4 408.9,285.1 417.3,288.4 425.6,291.8 434.0,295.1 439.1,301.8 445.8,308.5 454.1,311.9 462.5,310.2 467.5,306.9 474.2,310.2 477.6,320.3 479.3,328.6 484.3,333.7 491.0,335.3 491.0,367.0 367.0,367.0 367.0,270.0"/>
<polygon fill="#FF5A00" points="485.1,298.5 489.3,301.0 486.8,303.5"/>
<polygon fill="#FF0000" points="367.0,275.0 372.0,280.1 375.4,286.8 382.1,290.1 388.8,288.4 395.5,286.8 403.9,286.8 410.6,290.1 417.3,295.1 425.6,296.8 434.0,300.2 440.7,306.9 447.4,313.6 454.1,316.9 460.8,321.9 467.5,328.6 474.2,333.7 482.6,337.0 491.0,340.4 491.0,367.0 367.0,367.0"/>
<polygon fill="#C80000" points="367.0,298.5 373.7,301.0 380.4,303.5 383.8,301.8 388.8,302.7 395.5,305.2 400.5,308.5 400.5,313.6 405.5,318.6 413.9,320.3 417.3,327.0 422.3,333.7 425.6,340.4 425.6,348.8 429.0,352.1 434.0,347.1 434.0,337.0 437.4,335.3 444.1,334.5 450.8,332.0 457.5,335.3 464.2,338.7 474.2,342.1 484.3,344.6 491.0,345.4 491.0,367.0 367.0,367.0"/>
<polygon fill="#C80000" points="399.7,294.3 408.9,294.0 409.7,296.3 400.5,296.8"/>
</g>
<g clip-path="url(#p3)">
<rect x="243" y="400" width="124" height="97" fill="#FF0000"/>
<polygon fill="#C80000" points="331.8,400.0 367.0,400.0 367.0,406.4 356.9,406.7 346.9,408.0 336.8,407.5 333.5,405.0"/>
<polygon fill="#C80000" points="338.5,427.6 343.5,423.5 350.2,424.3 358.6,429.3 365.3,434.3 367.0,436.0 367.0,451.1 360.3,449.4 353.6,445.2 346.9,441.1 341.9,436.0"/>
<polygon fill="#C80000" points="243.0,441.9 246.4,439.4 249.7,443.6 253.1,450.3 259.8,453.6 268.1,451.1 276.5,453.6 284.9,458.6 283.2,463.7 288.2,470.4 293.3,477.1 298.3,483.8 301.6,490.5 303.3,497.0 243.0,497.0"/>
<polygon fill="#C80000" points="243.0,432.7 247.2,436.0 248.9,441.9 243.0,443.6"/>
<polygon fill="#960000" points="277.3,477.9 280.7,478.8 284.1,484.6 280.7,485.5"/>
<polygon fill="#FF5A00" points="351.4,417.4 359.0,413.7 367.0,412.7 367.0,425.0 359.0,423.8 353.6,420.9"/>
<polygon fill="#FF5A00" points="243.0,425.1 249.7,429.3 256.4,431.0 263.1,429.3 268.1,431.0 269.8,438.5 274.8,445.2 283.2,448.6 293.3,451.9 301.6,454.5 310.0,457.0 316.7,463.7 317.6,469.5 310.0,470.4 301.6,471.2 297.5,472.1 300.0,480.4 305.0,488.8 310.0,497.0 367.0,497.0 367.0,473.7 360.3,467.0 353.6,462.0 346.9,457.0 343.5,450.3 336.8,443.6 330.1,436.9 323.4,431.8 320.1,425.1 316.7,416.8 310.0,410.1 303.3,405.0 298.3,400.0 243.0,400.0"/>
<polygon fill="#F08228" points="243.0,421.8 249.7,426.8 256.4,428.5 264.8,425.1 269.8,428.5 272.3,436.9 276.5,442.7 284.9,446.1 293.3,447.8 300.0,450.3 308.3,453.6 316.7,457.0 321.8,463.7 323.4,470.4 318.4,475.4 315.1,480.4 316.7,488.8 318.4,497.0 367.0,497.0 367.0,478.8 360.3,473.7 353.6,468.7 346.9,463.7 341.9,457.0 336.8,450.3 331.8,445.2 325.1,440.2 318.4,438.5 310.0,441.9 305.0,438.5 306.7,433.5 311.7,428.5 310.0,421.8 305.0,415.1 298.3,408.4 293.3,403.4 289.9,400.0 243.0,400.0"/>
<polygon fill="#FF5A00" points="288.2,430.2 292.4,426.8 295.8,431.0 292.4,433.5"/>
<polygon fill="#E6AF2D" points="243.0,418.4 249.7,423.5 258.1,425.1 266.5,421.8 270.6,426.8 272.3,433.5 274.8,439.4 281.5,443.6 288.2,445.2 294.9,443.6 291.6,438.5 284.9,433.5 281.5,426.8 282.4,413.4 283.2,405.0 281.5,400.0 243.0,400.0"/>
<polygon fill="#E6AF2D" points="331.0,472.1 336.0,469.5 340.2,472.9 336.0,475.4"/>
<polygon fill="#E6AF2D" points="320.1,489.6 323.4,488.0 326.8,491.3 321.8,492.2"/>
<polygon fill="#E6AF2D" points="341.9,489.6 347.7,488.0 351.1,491.3 343.5,492.2"/>
<polygon fill="#E6AF2D" points="360.3,490.5 367.0,487.1 367.0,497.0 360.3,497.0"/>
<polygon fill="#E6DC32" points="243.0,415.1 249.7,420.1 256.4,421.8 263.1,419.3 268.1,416.8 273.2,411.7 275.7,405.0 274.8,400.0 243.0,400.0"/>
<polygon fill="#E6DC32" points="277.3,436.0 279.5,435.2 280.2,437.7 278.2,438.2"/>
<polygon fill="#F0EB50" points="243.0,400.0 261.4,400.0 261.4,406.7 259.8,413.4 254.7,417.6 248.9,415.9 243.0,410.1"/>
<polygon fill="#E1F5A5" points="248.0,412.1 252.2,412.1 252.2,414.7 248.0,414.7"/>
</g>
<g clip-path="url(#p4)">
<rect x="185" y="340" width="124" height="97" fill="#FF5A00"/>
<polygon fill="#FF0000" points="249.5,340.0 253.7,346.7 260.4,356.8 267.1,365.1 275.5,372.7 283.9,379.4 291.4,383.9 298.9,387.8 299.8,392.8 304.8,397.0 309.0,399.5 309.0,340.0"/>
<polygon fill="#FF0000" points="185.0,395.3 190.0,398.6 195.1,405.3 201.8,410.4 210.1,415.4 218.5,420.4 226.9,423.8 235.3,427.1 243.6,430.5 252.0,433.8 258.7,437.0 185.0,437.0"/>
<polygon fill="#C80000" points="185.0,425.5 190.0,426.3 195.1,430.5 196.7,437.0 185.0,437.0"/>
<polygon fill="#FF5A00" points="201.8,427.1 205.9,425.5 209.3,429.6 205.9,433.0 201.8,431.3"/>
<polygon fill="#F08228" points="185.0,340.0 185.0,363.5 190.0,368.5 195.1,375.2 191.7,381.9 189.2,388.6 191.7,395.3 198.4,400.3 203.4,403.7 208.5,408.7 215.2,413.7 223.5,417.1 231.9,420.4 240.3,425.5 248.7,430.5 257.1,433.8 263.8,437.0 309.0,437.0 309.0,418.8 302.3,412.1 295.6,407.0 288.9,402.0 283.9,395.3 278.8,390.3 273.8,388.6 268.8,385.2 263.8,383.6 258.7,378.5 255.4,370.2 252.0,361.8 247.0,355.1 242.0,350.1 236.9,345.0 233.6,340.0"/>
<polygon fill="#FF5A00" points="289.7,429.6 293.9,427.1 296.4,431.3 293.1,433.8"/>
<polygon fill="#E6AF2D" points="200.1,340.0 195.1,346.7 190.0,353.4 189.2,358.4 193.4,365.1 197.6,373.5 199.2,380.2 203.4,383.6 210.1,385.2 213.5,390.3 211.8,397.0 206.8,400.3 208.5,405.3 215.2,410.4 223.5,413.7 231.9,416.2 238.6,420.4 245.3,425.5 252.0,428.8 260.4,432.2 268.8,433.8 272.1,437.0 283.0,437.0 282.2,430.5 283.9,423.8 282.2,417.1 278.8,410.4 275.5,403.7 272.1,395.3 268.8,389.4 263.8,386.9 258.7,387.8 255.4,383.6 252.0,376.9 249.5,368.5 245.3,361.8 240.3,355.9 236.9,350.1 233.6,345.0 230.2,340.0"/>
<polygon fill="#F08228" points="219.3,398.6 226.9,397.8 231.1,401.2 228.6,406.2 222.7,406.2 219.3,402.8"/>
<polygon fill="#FF5A00" points="214.3,371.0 216.8,371.0 216.8,373.2 214.3,373.2"/>
<polygon fill="#FF5A00" points="247.8,392.8 250.3,392.8 250.3,396.1 247.8,396.1"/>
<polygon fill="#E6DC32" points="201.8,340.0 205.1,346.7 210.1,353.4 215.2,361.8 220.2,368.5 226.9,373.5 230.2,378.5 223.5,381.9 216.8,383.6 214.3,388.6 216.8,393.6 223.5,395.3 231.9,395.3 235.3,400.3 233.6,405.3 236.9,412.1 242.0,418.8 248.7,423.8 255.4,425.5 262.1,422.1 268.8,418.8 275.5,413.7 273.8,407.0 271.3,397.0 267.9,390.3 262.9,388.6 257.9,390.3 255.4,397.0 252.0,400.3 247.0,398.6 242.0,390.3 238.6,381.9 242.0,376.9 246.2,371.8 243.6,365.1 238.6,360.1 235.3,355.1 233.6,350.1 230.2,345.0 226.9,340.0"/>
<polygon fill="#E6DC32" points="207.6,405.3 211.8,402.0 218.5,403.7 224.4,410.4 222.7,413.7 215.2,412.1 210.1,409.5"/>
<polygon fill="#F0EB50" points="204.3,340.0 208.5,346.7 213.5,353.4 218.5,360.1 223.5,365.1 230.2,371.8 235.3,375.2 240.3,375.2 242.8,370.2 239.5,365.1 234.4,360.9 231.1,355.9 228.6,350.1 225.2,345.0 221.9,340.0"/>
<polygon fill="#F0EB50" points="219.3,387.8 225.2,386.6 230.2,388.6 228.6,391.1 221.9,390.6"/>
<polygon fill="#F0EB50" points="258.7,397.0 261.2,391.1 265.4,390.3 267.9,397.0 267.1,403.7 262.1,405.3 258.7,402.0"/>
<polygon fill="#F0EB50" points="238.6,407.0 245.3,405.3 253.7,407.0 258.7,410.4 260.4,415.4 257.1,420.4 252.0,422.1 247.0,418.8 242.0,413.7"/>
<polygon fill="#E1F5A5" points="248.3,412.1 252.0,412.1 252.0,414.6 248.3,414.6"/>
<polygon fill="#F0EB50" points="215.2,406.2 218.5,405.3 221.9,409.5 218.5,410.4"/>
</g>
<g fill="none" stroke="#727280" stroke-width="1" stroke-dasharray="2,4" shape-rendering="crispEdges">
<line x1="136.5" y1="55" x2="136.5" y2="530"/>
<line x1="196.5" y1="55" x2="196.5" y2="530"/>
<line x1="257.5" y1="55" x2="257.5" y2="530"/>
<line x1="317.5" y1="55" x2="317.5" y2="530"/>
<line x1="377.5" y1="55" x2="377.5" y2="530"/>
<line x1="438.5" y1="55" x2="438.5" y2="530"/>
<line x1="498.5" y1="55" x2="498.5" y2="530"/>
<line x1="559.5" y1="55" x2="559.5" y2="530"/>
<line x1="124" y1="106.5" x2="619" y2="106.5"/>
<line x1="124" y1="180.5" x2="619" y2="180.5"/>
<line x1="124" y1="254.5" x2="619" y2="254.5"/>
<line x1="124" y1="328.5" x2="619" y2="328.5"/>
<line x1="124" y1="402.5" x2="619" y2="402.5"/>
<line x1="124" y1="476.5" x2="619" y2="476.5"/>
</g>
<g fill="none" stroke="#55555f" stroke-width="1.9" stroke-linejoin="round" stroke-linecap="round">
<polyline points="157.5,52.0 162.6,55.0 169.3,57.0 176.0,58.0 186.0,60.1 196.1,62.1 206.1,63.4 216.2,64.7 226.2,65.4 236.3,66.4 239.6,67.1 239.3,70.9 234.6,73.5"/>
<polyline points="239.6,67.1 243.0,66.8"/>
<polyline points="152.5,147.0 157.5,142.2 164.2,138.0 169.3,138.8 167.6,141.3 172.6,141.8 179.3,138.8 186.0,135.5 192.7,132.9 199.4,130.4 201.1,126.2 204.5,122.9 209.5,122.4"/>
<polyline points="243.0,66.8 256.4,67.6 264.8,73.5 276.5,74.3"/>
<polyline points="300.0,70.1 306.7,62.6 316.7,58.4 336.8,57.5 353.6,55.0 367.0,52.5"/>
<polyline points="367.0,88.5 356.9,89.4 352.8,95.2 354.4,99.4 359.5,101.1 359.5,117.0 353.6,117.0 343.5,119.5 336.0,123.7 334.3,128.8 337.7,132.1 334.3,137.1 334.3,147.0"/>
<polyline points="298.3,138.8 305.8,146.4 316.7,142.2 325.1,145.5 330.1,147.0"/>
<polyline points="398.8,52.0 403.0,60.1 408.9,69.3 417.3,72.6 425.6,77.6 430.3,82.7 433.2,87.7 440.7,90.2 448.3,93.6 452.5,99.4 454.1,105.3 460.0,110.3 467.5,110.0 473.4,111.7 477.6,117.9 484.3,120.4 491.0,122.1"/>
<polyline points="367.0,87.7 377.1,83.5 382.1,81.0 382.9,76.8 392.1,75.1 393.0,67.6 397.2,66.8 403.0,66.8 408.9,70.1"/>
<polyline points="491.0,122.1 511.1,122.4 521.2,125.1 527.0,123.7 534.6,117.0 541.3,112.8 547.1,113.7 556.4,108.6 563.1,104.5 568.1,107.0 574.8,106.1 583.2,101.9 589.0,96.9 591.5,93.2"/>
<polyline points="601.6,93.9 608.3,94.9 615.0,93.9"/>
<polyline points="547.1,113.7 555.5,122.1 555.5,130.4 552.2,136.3 554.7,139.6 558.0,137.1 563.9,141.3 558.9,143.0 558.0,147.0"/>
<polyline points="161.7,147.0 155.0,153.7 153.4,155.0"/>
<polyline points="150.8,147.0 145.8,155.4 145.0,159.6 150.0,165.4 155.0,172.1 158.4,177.2 163.4,179.7 168.4,181.4 166.8,187.2 163.4,192.2 160.1,194.8 155.0,192.2 151.7,193.9 150.0,200.6 150.8,209.0 152.5,217.4 155.0,225.8 158.4,234.1 161.7,240.8 164.2,244.0"/>
<polyline points="159.2,188.1 161.7,187.2 162.2,190.2 160.1,190.9 159.2,188.1"/>
<polyline points="228.8,152.0 231.3,158.7 233.8,167.1 236.3,173.8 239.6,178.0 243.0,182.2"/>
<polyline points="243.0,180.5 246.4,190.6 251.4,197.3 256.4,195.6 261.4,187.2 266.5,183.0 269.8,178.8 271.5,168.8 273.2,160.4 275.7,154.5 279.0,154.0 285.7,157.1 291.6,162.1 298.3,166.3 307.5,170.5 310.0,177.2 312.0,183.0 310.9,190.6 310.0,198.9 311.7,205.6 316.7,212.4 321.8,217.4 330.1,225.8 336.8,230.8 346.9,233.3"/>
<polyline points="282.4,173.8 288.2,162.9 293.3,165.4 296.6,172.1 300.8,177.2 305.3,180.5 304.7,183.0 300.0,182.5 293.3,181.4 285.7,178.8 282.4,173.8"/>
<polyline points="273.2,168.8 275.7,166.8 278.2,168.8 279.5,175.5 281.2,180.5 282.4,188.9 284.9,197.3 287.9,205.6 286.6,209.3 283.2,207.3 279.0,202.3 277.4,190.6 275.7,180.5 273.2,168.8"/>
<polyline points="277.4,200.6 279.0,209.0 284.1,213.2 288.2,217.4 287.4,219.1 282.4,214.0 278.2,210.7 277.4,200.6"/>
<polyline points="300.8,201.5 306.7,207.3 313.4,213.2 317.6,217.4 323.4,225.8 330.1,232.5"/>
<polyline points="310.0,209.0 318.4,214.0 325.1,220.7 331.8,229.1 325.1,233.3 323.4,235.8 328.5,242.5"/>
<polyline points="323.4,147.0 326.8,147.8 331.0,147.0"/>
<polyline points="367.0,163.8 364.5,164.6 363.3,172.1 362.8,183.9 361.1,192.2 365.3,197.3 367.0,198.9"/>
<polyline points="367.0,162.9 376.2,162.9 380.4,167.1 385.4,173.0 390.5,178.0 396.3,179.7 400.5,173.8 404.7,167.1 408.9,162.9 415.6,163.4 424.0,165.4 428.2,162.9 432.0,160.1 437.4,162.9 442.4,166.3 447.4,168.8 454.1,167.1 460.8,168.8 467.5,171.8 477.6,171.3 484.3,174.6 491.0,175.8"/>
<polyline points="367.0,198.9 373.7,201.5 377.9,207.3 379.6,211.5 385.4,217.4 387.9,224.1 388.4,230.8 386.3,238.3 392.1,239.2 397.2,241.7 398.8,244.0"/>
<polyline points="491.0,174.6 497.7,173.0 501.1,172.1 505.2,173.8 511.1,173.0 512.8,169.6 517.8,169.6 527.9,172.1 534.6,173.5 541.3,177.2 545.5,180.5 544.6,184.7 549.6,188.9 556.4,190.6 563.1,187.2 569.8,185.9 576.5,186.4 581.2,188.6 580.6,193.9 578.1,200.6 573.1,207.3 568.1,213.2 565.6,217.4 564.7,225.8 567.2,231.6 574.8,235.0 581.5,239.2 586.5,244.0"/>
<polyline points="557.2,147.0 557.2,151.2 563.1,156.2 571.4,160.4 579.8,162.4 584.0,163.4 583.2,166.3 576.5,166.3 571.4,163.8 567.2,163.8 564.7,170.5 563.9,177.2 560.5,183.9 558.0,189.7"/>
<polyline points="165.9,244.0 170.9,249.0 177.6,254.9 186.0,256.6 194.4,261.6 202.8,268.3 209.5,274.2 216.2,278.4 226.2,280.9 232.1,284.2"/>
<polyline points="160.1,256.6 164.2,254.4 166.8,255.7 165.9,259.9 162.6,261.1 160.1,259.1 160.1,256.6"/>
<polyline points="309.2,244.0 315.1,249.0 320.1,254.1 325.1,260.8 328.5,262.4 330.1,259.9 325.9,256.6 320.9,253.2 316.7,247.4 314.2,244.0"/>
<polyline points="330.1,244.0 336.8,250.7 345.2,257.4 353.6,264.9 360.3,270.0 367.0,271.6"/>
<polyline points="243.0,310.2 246.4,319.4 249.7,331.1"/>
<polyline points="396.3,244.0 402.2,249.0 408.9,252.4 415.6,259.1 422.3,267.5"/>
<polyline points="586.5,244.0 591.5,247.4 596.6,250.7 594.9,254.1 589.9,257.4 581.5,256.6 576.5,253.2 573.1,252.4 573.9,257.4 579.8,262.4 585.7,268.3 588.2,274.2 589.0,280.9 584.8,284.2 576.5,286.7 571.4,288.4 564.7,287.2 558.0,285.9 555.5,290.1 558.0,294.3 561.4,299.3 563.9,306.0 562.2,309.7 558.0,308.5 555.5,302.6 550.5,301.0 544.6,303.5 539.6,308.5 537.1,316.1 536.2,321.9 529.5,326.1 527.0,331.1 525.4,341.0"/>
<polyline points="571.4,288.4 576.5,294.3 584.8,301.0 591.5,306.8 596.6,312.7 604.9,316.1 615.0,319.4 621.7,320.2"/>
<polyline points="119.0,391.3 125.7,398.0 132.4,399.6 139.1,403.0 145.8,409.7 150.0,417.2 157.5,423.1 164.2,429.8 169.3,438.0"/>
<polyline points="367.0,407.2 373.7,404.7 380.4,405.5 386.3,408.9 389.1,414.7 387.1,419.8 381.2,423.9 374.5,427.3 370.4,432.3 370.0,438.0"/>
<polyline points="491.0,344.4 501.1,351.1 511.1,357.8 521.2,364.5 529.5,370.3 537.9,374.5 546.3,379.5 553.0,382.9 558.0,387.9 564.7,394.6 568.1,403.0 573.1,407.2 579.8,409.7 588.2,412.2 594.1,414.7 594.9,424.8 591.5,433.2 588.2,438.0"/>
<polyline points="491.0,342.7 497.7,347.7 506.1,352.7 516.1,355.2 521.2,354.4 524.5,357.8"/>
<polyline points="524.5,341.0 528.7,345.2 532.6,350.2 531.2,354.4 525.4,357.8 525.4,364.5 528.7,369.5"/>
<polyline points="528.7,368.6 534.6,367.0 540.4,367.8 539.6,371.2 534.6,372.8 530.4,371.2"/>
<polyline points="579.0,409.7 579.0,401.3 581.5,394.6 580.6,390.4 576.5,388.8 576.5,385.4 581.5,381.2 586.5,372.8 591.5,364.5 595.7,356.9 599.9,351.9 603.3,352.7 604.9,361.1 608.3,365.3 615.0,362.8 621.7,361.9"/>
<polyline points="169.3,438.0 174.3,440.5 182.7,443.0 189.4,446.4 194.4,449.7 196.9,454.8 201.1,456.1 206.1,454.8 210.3,452.7 217.9,453.4 226.2,455.1 234.6,454.8 239.6,457.3 243.0,458.9"/>
<polyline points="282.4,498.3 279.0,502.5 284.9,503.4 293.3,500.8 301.6,498.3 307.5,502.5 311.7,508.4 315.1,514.2 316.7,520.1 314.2,525.1 311.7,529.3"/>
<polyline points="370.4,438.0 377.1,443.0 385.4,447.2 395.5,451.4 405.5,456.4 415.6,460.6 425.6,463.1 437.4,468.2 447.4,471.5 454.1,476.5 460.8,483.2 467.5,488.3 475.9,491.6 484.3,495.0 491.0,496.6"/>
<polyline points="423.1,529.3 427.3,521.8 432.4,515.1 437.4,510.9 444.1,509.7 450.8,511.7 457.5,512.6 450.8,515.9 449.9,518.4 454.1,521.8 462.5,525.1 469.2,526.8 480.9,526.0 491.0,526.8"/>
<polyline points="587.4,438.0 584.8,444.7 585.7,451.4 589.0,453.9 588.2,461.5 585.7,469.8 584.8,474.9 589.0,477.4 589.9,480.7 586.5,482.4 583.2,486.6 581.5,493.3 579.0,498.3 576.5,501.3 579.8,504.2 585.7,506.7 587.4,511.7 587.4,520.1 586.5,524.3 583.2,523.5 580.6,518.4 577.3,515.9 575.6,518.4 579.8,523.5 583.2,529.3"/>
<polyline points="491.0,496.6 497.7,500.0 500.2,506.7 506.1,511.7 512.8,516.8 518.6,521.8 522.8,526.8 524.5,529.3"/>
<polyline points="233.0,75.0 227.9,78.2 222.7,80.8 218.9,84.0 220.2,88.5 226.6,87.9 233.0,90.5 235.6,94.3 231.8,98.8 227.2,102.7 226.6,105.9 230.5,108.5 234.3,106.6 233.0,112.4 231.8,118.8 234.3,121.4 230.5,123.3 227.9,125.9 222.7,128.5 218.9,129.8"/>
<polyline points="234.3,121.4 240.8,122.0 245.9,126.5 250.4,131.7 249.8,135.6 243.4,135.6 240.8,136.9 238.2,139.4 233.0,142.0 227.9,142.7 226.0,145.2 227.9,150.0"/>
<polyline points="231.8,143.3 235.6,146.1 247.2,146.5 256.2,145.2 266.5,144.6 274.3,144.3 280.7,143.9 284.6,140.7 288.5,134.3 291.0,131.1 293.6,131.7 295.0,133.6 298.4,138.8"/>
<polyline points="276.9,75.0 283.3,76.0 291.0,75.6 295.0,75.0 300.1,70.1"/>
<polyline points="209.2,122.4 215.0,122.9 218.7,124.5 219.9,129.6"/>
<polyline points="232.1,284.1 232.9,290.0 238.0,296.7 243.0,306.8"/>
<polyline points="367.0,275.0 372.0,279.2 373.7,285.9 378.7,290.9 385.4,291.8 392.1,287.6 403.0,286.8 408.9,290.1 415.6,294.3 424.0,296.8 430.7,297.6 435.7,301.8 440.7,306.9 447.4,312.7 454.1,316.1 460.8,320.3 467.5,327.0 469.2,331.2 475.9,333.3 482.6,332.8 489.3,337.0 491.0,338.7"/>
<polyline points="423.1,270.0 429.0,276.7 435.7,283.4 440.7,287.6 449.1,290.9 453.8,294.3 454.1,301.8 457.5,307.7 462.5,312.7 469.2,316.9 475.9,321.9 478.4,327.0 476.8,331.2 470.9,332.0 465.9,328.6"/>
<polyline points="402.2,300.2 408.9,298.5 418.9,300.2 427.3,301.8 430.7,305.2 425.6,308.2 415.6,307.7 405.5,306.0 402.2,300.2"/>
<polyline points="399.7,313.2 408.9,310.7 418.9,313.9 430.7,316.1 444.1,316.9 444.1,319.4 430.7,319.4 417.3,318.6 407.2,316.6 399.7,313.2"/>
<polyline points="379.6,323.3 385.4,320.8 392.1,322.3 391.3,326.1 383.8,327.3 379.6,323.3"/>
<polyline points="415.6,328.6 422.3,327.8 430.7,329.5 439.1,327.8 447.4,329.5 446.6,333.3 437.4,334.0 427.3,333.7 418.9,332.8 415.6,328.6"/>
<polyline points="437.4,324.5 447.4,325.3 457.5,329.5 467.5,334.5 477.6,337.9 487.6,342.1 491.0,343.7"/>
<polyline points="439.1,327.0 450.8,328.6"/>
<polyline points="457.5,342.1 464.2,341.2 472.6,344.6 482.6,347.9 481.8,350.4 474.2,348.8 465.9,346.2 458.3,344.6 457.5,342.1"/>
<polyline points="309.2,400.0 316.7,401.7 321.8,405.0 331.8,407.5 346.9,408.0 356.9,406.7 367.0,406.4"/>
<polyline points="255.6,475.4 258.1,482.1 261.4,487.1 268.1,487.1 274.0,486.3 279.9,489.6 284.1,493.0 283.2,497.0"/>
<polyline points="243.0,458.6 245.5,464.5"/>
<polyline points="251.2,340.0 255.4,346.7 262.1,356.8 268.8,366.0 277.2,373.5 285.5,380.2 292.2,385.2 299.8,388.6 300.6,393.6 305.6,397.8 309.0,400.3"/>
</g>
</g>
<!-- logo box -->
<rect x="516.5" y="51" width="103" height="41.5" fill="#fff" stroke="#000" stroke-width="1"/>
<text class="logo" x="529.2" y="79">©</text>
<text class="logo" x="547.2" y="79" textLength="58.5" lengthAdjust="spacing">DHMZ</text>
<!-- legend box -->
<rect x="120" y="465.5" width="135.5" height="65" fill="#fff" stroke="#000" stroke-width="1"/>
<g class="lg">
<text x="148.3" y="483.1" textLength="100.3" lengthAdjust="spacing">Temperatura zraka</text>
<text x="172.5" y="496.9" textLength="76.1" lengthAdjust="spacing">na 2m (st. C)</text>
<text x="140.8" y="510.7" textLength="106.8" lengthAdjust="spacing">start 00z15nov2011</text>
<text x="128.1" y="524.3" textLength="119.5" lengthAdjust="spacing">termin 15Z16NOV2011</text>
</g>
<!-- frame -->
<rect x="120" y="51" width="499" height="479" fill="none" stroke="#000" stroke-width="2" shape-rendering="crispEdges"/>
<g stroke="#000" stroke-width="1" shape-rendering="crispEdges">
<line x1="136.5" y1="530" x2="136.5" y2="534"/>
<line x1="196.5" y1="530" x2="196.5" y2="534"/>
<line x1="257.5" y1="530" x2="257.5" y2="534"/>
<line x1="317.5" y1="530" x2="317.5" y2="534"/>
<line x1="377.5" y1="530" x2="377.5" y2="534"/>
<line x1="438.5" y1="530" x2="438.5" y2="534"/>
<line x1="498.5" y1="530" x2="498.5" y2="534"/>
<line x1="559.5" y1="530" x2="559.5" y2="534"/>
<line x1="619.5" y1="530" x2="619.5" y2="534"/>
<line x1="116" y1="106.5" x2="120" y2="106.5"/>
<line x1="116" y1="180.5" x2="120" y2="180.5"/>
<line x1="116" y1="254.5" x2="120" y2="254.5"/>
<line x1="116" y1="328.5" x2="120" y2="328.5"/>
<line x1="116" y1="402.5" x2="120" y2="402.5"/>
<line x1="116" y1="476.5" x2="120" y2="476.5"/>
</g>
<g class="ax">
<text x="128.8" y="544.4" textLength="15.8" lengthAdjust="spacingAndGlyphs">12E</text>
<text x="189.1" y="544.4" textLength="15.8" lengthAdjust="spacingAndGlyphs">13E</text>
<text x="249.4" y="544.4" textLength="15.8" lengthAdjust="spacingAndGlyphs">14E</text>
<text x="309.7" y="544.4" textLength="15.8" lengthAdjust="spacingAndGlyphs">15E</text>
<text x="370.0" y="544.4" textLength="15.8" lengthAdjust="spacingAndGlyphs">16E</text>
<text x="430.3" y="544.4" textLength="15.8" lengthAdjust="spacingAndGlyphs">17E</text>
<text x="490.6" y="544.4" textLength="15.8" lengthAdjust="spacingAndGlyphs">18E</text>
<text x="550.9" y="544.4" textLength="15.8" lengthAdjust="spacingAndGlyphs">19E</text>
<text x="611.2" y="544.4" textLength="15.8" lengthAdjust="spacingAndGlyphs">20E</text>
<text x="97" y="110.3" textLength="17" lengthAdjust="spacingAndGlyphs">46N</text>
<text x="97" y="184.2" textLength="17" lengthAdjust="spacingAndGlyphs">45N</text>
<text x="97" y="258.1" textLength="17" lengthAdjust="spacingAndGlyphs">44N</text>
<text x="97" y="332.0" textLength="17" lengthAdjust="spacingAndGlyphs">43N</text>
<text x="97" y="405.9" textLength="17" lengthAdjust="spacingAndGlyphs">42N</text>
<text x="97" y="479.8" textLength="17" lengthAdjust="spacingAndGlyphs">41N</text>
</g>
<g class="ttl">
<text x="170.8" y="40.4" textLength="97.6" lengthAdjust="spacing">Temperatura</text>
<text x="278.6" y="40.4" textLength="40.9" lengthAdjust="spacing">zraka</text>
<text x="331.4" y="40.4" textLength="16.5" lengthAdjust="spacing">na</text>
<text x="357.8" y="40.4" textLength="23.5" lengthAdjust="spacing">2m</text>
<text x="393.5" y="40.4" textLength="6.8" lengthAdjust="spacing">u</text>
<text x="413.9" y="40.4" textLength="15.6" lengthAdjust="spacing">15</text>
<text x="442.3" y="40.4" textLength="27.0" lengthAdjust="spacing">UTC</text>
<text x="482.6" y="40.4" textLength="85.5" lengthAdjust="spacing">16NOV2011</text>
</g>
<g shape-rendering="crispEdges">
<rect x="652" y="77" width="15" height="19" fill="#FFEFDF"/>
<rect x="652" y="96" width="15" height="18" fill="#D8BFD8"/>
<rect x="652" y="114" width="15" height="19" fill="#DDA0DD"/>
<rect x="652" y="133" width="15" height="19" fill="#BA55D3"/>
<rect x="652" y="152" width="15" height="18" fill="#8B008B"/>
<rect x="652" y="170" width="15" height="19" fill="#960000"/>
<rect x="652" y="189" width="15" height="18" fill="#C80000"/>
<rect x="652" y="207" width="15" height="19" fill="#FF0000"/>
<rect x="652" y="226" width="15" height="19" fill="#FF5A00"/>
<rect x="652" y="245" width="15" height="18" fill="#F08228"/>
<rect x="652" y="263" width="15" height="19" fill="#E6AF2D"/>
<rect x="652" y="282" width="15" height="19" fill="#E6DC32"/>
<rect x="652" y="301" width="15" height="18" fill="#F0EB50"/>
<rect x="652" y="319" width="15" height="19" fill="#E1F5A5"/>
<rect x="652" y="338" width="15" height="18" fill="#9BE632"/>
<rect x="652" y="356" width="15" height="19" fill="#00DC00"/>
<rect x="652" y="375" width="15" height="19" fill="#00B400"/>
<rect x="652" y="394" width="15" height="18" fill="#007800"/>
<rect x="652" y="412" width="15" height="19" fill="#1E3CFF"/>
<rect x="652" y="431" width="15" height="19" fill="#00A0F0"/>
<rect x="652" y="450" width="15" height="18" fill="#B0E0E6"/>
<rect x="652" y="468" width="15" height="19" fill="#E6FFFF"/>
</g>
<g class="cb">
<text x="670.2" y="80.8" textLength="14.3" lengthAdjust="spacing">29</text>
<text x="670.2" y="99.4" textLength="14.3" lengthAdjust="spacing">27</text>
<text x="670.2" y="118.1" textLength="14.3" lengthAdjust="spacing">25</text>
<text x="670.2" y="136.7" textLength="14.3" lengthAdjust="spacing">23</text>
<text x="670.2" y="155.3" textLength="14.3" lengthAdjust="spacing">21</text>
<text x="670.2" y="173.9" textLength="14.3" lengthAdjust="spacing">19</text>
<text x="670.2" y="192.6" textLength="14.3" lengthAdjust="spacing">17</text>
<text x="670.2" y="211.2" textLength="14.3" lengthAdjust="spacing">15</text>
<text x="670.2" y="229.8" textLength="14.3" lengthAdjust="spacing">13</text>
<text x="670.2" y="248.5" textLength="14.3" lengthAdjust="spacing">11</text>
<text x="670.2" y="267.1" textLength="5.8" lengthAdjust="spacing">9</text>
<text x="670.2" y="285.7" textLength="5.8" lengthAdjust="spacing">7</text>
<text x="670.2" y="304.4" textLength="5.8" lengthAdjust="spacing">5</text>
<text x="670.2" y="323.0" textLength="5.8" lengthAdjust="spacing">3</text>
<text x="670.2" y="341.6" textLength="5.8" lengthAdjust="spacing">1</text>
<text x="671.6" y="360.2" textLength="13.9" lengthAdjust="spacing">−1</text>
<text x="671.6" y="378.9" textLength="13.9" lengthAdjust="spacing">−3</text>
<text x="671.6" y="397.5" textLength="13.9" lengthAdjust="spacing">−5</text>
<text x="671.6" y="416.1" textLength="13.9" lengthAdjust="spacing">−7</text>
<text x="671.6" y="434.8" textLength="13.9" lengthAdjust="spacing">−9</text>
<text x="671.6" y="453.4" textLength="22.3" lengthAdjust="spacing">−11</text>
<text x="671.6" y="472.0" textLength="22.3" lengthAdjust="spacing">−13</text>
<text x="671.6" y="490.7" textLength="22.3" lengthAdjust="spacing">−15</text>
<text x="671.6" y="509.3" textLength="22.3" lengthAdjust="spacing">−17</text>
</g>
<text x="664" y="527.5" style="font-size:9.8px" textLength="35" lengthAdjust="spacing">(st. C)</text>
</svg>
</body></html>
